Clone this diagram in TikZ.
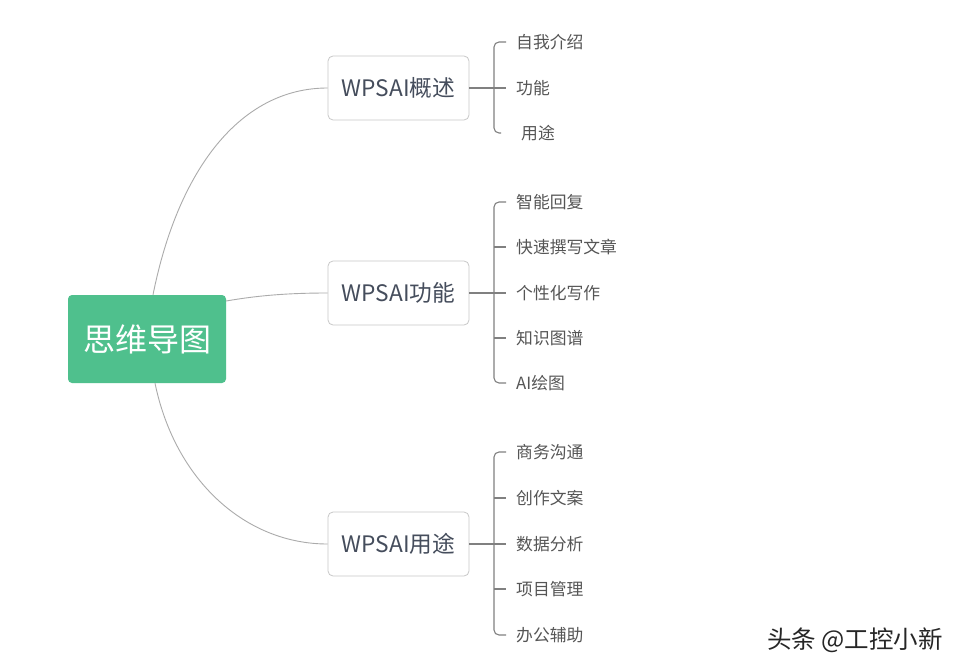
\documentclass[tikz,border=0pt]{standalone}
\usepackage{fontspec}
\setmainfont{Noto Sans CJK SC}
\definecolor{rootgreen}{HTML}{4FC08D}
\definecolor{boxline}{HTML}{C8C8C8}
\definecolor{curveline}{HTML}{ABABAB}
\definecolor{stemline}{HTML}{808080}
\definecolor{branchtext}{HTML}{454D5C}
\definecolor{leaftext}{HTML}{555555}
\tikzset{
  rootbox/.style={fill=rootgreen,rounded corners=4pt,minimum width=158pt,minimum height=88pt,inner sep=0pt,text=white,font=\fontsize{32pt}{36pt}\selectfont},
  branchbox/.style={draw=boxline,line width=0.8pt,fill=white,rounded corners=5pt,minimum width=141pt,minimum height=64pt,inner sep=0pt,text=branchtext,font=\fontsize{22.7pt}{26pt}\selectfont},
  leaf/.style={anchor=west,inner ysep=0pt,inner xsep=10pt,text=leaftext,font=\fontsize{16.8pt}{20pt}\selectfont},
  curve/.style={draw=curveline,line width=0.9pt},
  stem/.style={draw=stemline,line width=1.1pt},
  bracket/.style={draw=stemline,line width=1.1pt,rounded corners=5pt}
}
\begin{document}
\begin{tikzpicture}[x=1pt,y=-1pt]
\useasboundingbox[fill=white] (0,0) rectangle (963,671);
\node[rootbox] (root) at (147,339) {思维导图};
\node[branchbox] (b1) at (398.5,88) {WPSAI概述};
\node[branchbox] (b2) at (398.5,293) {WPSAI功能};
\node[branchbox] (b3) at (398.5,544) {WPSAI用途};
\node[leaf] (a1) at (506,42) {自我介绍};
\node[leaf] (a2) at (506,88) {功能};
\node[leaf,inner xsep=15pt] (a3) at (506,133) {用途};
\node[leaf] (c1) at (506,202) {智能回复};
\node[leaf] (c2) at (506,247) {快速撰写文章};
\node[leaf] (c3) at (506,293) {个性化写作};
\node[leaf] (c4) at (506,338) {知识图谱};
\node[leaf] (c5) at (506,383) {AI绘图};
\node[leaf] (d1) at (506,452) {商务沟通};
\node[leaf] (d2) at (506,498) {创作文案};
\node[leaf] (d3) at (506,544) {数据分析};
\node[leaf] (d4) at (506,589) {项目管理};
\node[leaf] (d5) at (506,635) {办公辅助};
\node[anchor=west,inner sep=0pt,text=black!85,font=\fontsize{24.5pt}{28pt}\selectfont] (mark) at (767,640) {头条 @工控小新};
\coordinate (rt) at ([xshift=6pt]root.north);
\coordinate (rr) at ([yshift=38pt]root.east);
\coordinate (rb) at ([xshift=8pt]root.south);
\draw[curve] (rt) .. controls (178,170) and (240,88) .. (b1.west);
\draw[curve] (rr) .. controls (255,296) and (285,293) .. (b2.west);
\draw[curve] (rb) .. controls (175,480) and (245,544) .. (b3.west);
\coordinate (j1) at (494,88);
\coordinate (j2) at (494,293);
\coordinate (j3) at (494,544);
\draw[stem] (b1.east) -- (a2.west);
\draw[bracket] (a1.west) -- (j1 |- a1.west) -- (j1 |- a3.west) -- ([xshift=-5pt]a3.west -| a1.west);
\draw[stem] (b2.east) -- (c3.west);
\draw[bracket] (c1.west) -- (j2 |- c1.west) -- (j2 |- c5.west) -- (c5.west);
\draw[stem] (j2 |- c2.west) -- (c2.west);
\draw[stem] (j2 |- c4.west) -- (c4.west);
\draw[stem] (b3.east) -- (d3.west);
\draw[bracket] (d1.west) -- (j3 |- d1.west) -- (j3 |- d5.west) -- (d5.west);
\draw[stem] (j3 |- d2.west) -- (d2.west);
\draw[stem] (j3 |- d4.west) -- (d4.west);
\end{tikzpicture}
\end{document}
